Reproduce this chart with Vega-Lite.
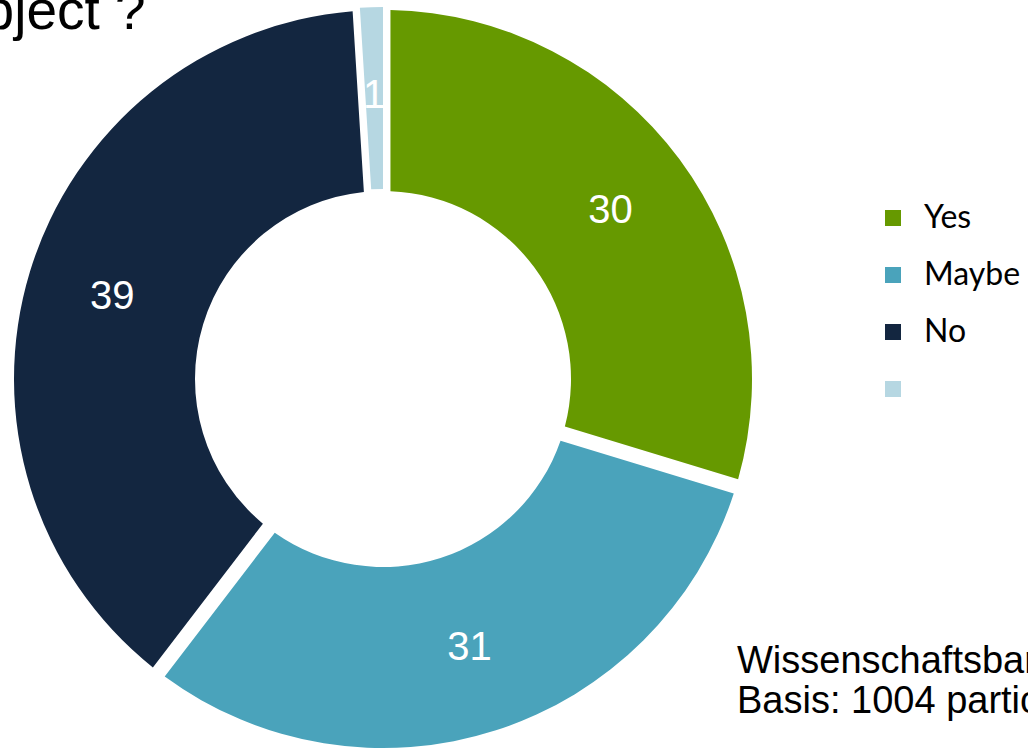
{
  "$schema": "https://vega.github.io/schema/vega-lite/v6.json",
  "width": 766,
  "height": 758,
  "autosize": {"type": "none"},
  "padding": {"left": 0, "top": 0, "right": 262, "bottom": 0},
  "background": "white",
  "config": {"view": {"stroke": null}},
  "datasets": {
    "answers": [
      {"answer": "Yes", "value": 30, "rank": 1},
      {"answer": "Maybe", "value": 31, "rank": 2},
      {"answer": "No", "value": 39, "rank": 3},
      {"answer": "Don’t know", "value": 1, "rank": 4}
    ],
    "title": [{"text": "object ?"}],
    "source": [{"text": "Wissenschaftsbarometer\nBasis: 1004 participants"}]
  },
  "resolve": {"scale": {"theta": "shared", "color": "shared"}},
  "layer": [
    {
      "data": {"name": "answers"},
      "transform": [
        {"stack": "value", "groupby": [], "sort": [{"field": "rank", "order": "ascending"}], "as": ["v0", "v1"]},
        {"filter": "datum.rank < 4"}
      ],
      "mark": {"type": "arc", "innerRadius": 188, "outerRadius": 369, "padAngle": 0.036},
      "encoding": {
        "theta": {"field": "v0", "type": "quantitative", "scale": {"domain": [0, 101]}},
        "theta2": {"field": "v1"},
        "color": {
          "field": "answer",
          "type": "nominal",
          "scale": {
            "domain": ["Yes", "Maybe", "No", "Don’t know"],
            "range": ["#669900", "#4aa3bb", "#132640", "#b6d7e2"]
          },
          "legend": {
            "orient": "none",
            "legendX": 877,
            "legendY": 202,
            "title": null,
            "symbolType": "square",
            "symbolSize": 256,
            "symbolStrokeWidth": 0,
            "labelFont": "Lato",
            "labelFontSize": 32,
            "labelColor": "black",
            "labelOffset": 15,
            "rowPadding": 25,
            "padding": 0,
            "labelExpr": "indexof(datum.label, 'know') >= 0 ? '' : datum.label"
          }
        }
      }
    },
    {
      "data": {"name": "answers"},
      "transform": [
        {"stack": "value", "groupby": [], "sort": [{"field": "rank", "order": "ascending"}], "as": ["v0", "v1"]},
        {"filter": "datum.rank == 4"}
      ],
      "mark": {"type": "arc", "innerRadius": 190, "outerRadius": 372, "padAngle": 0},
      "encoding": {
        "theta": {"field": "v0", "type": "quantitative", "scale": {"domain": [0, 101]}},
        "theta2": {"field": "v1"},
        "color": {"field": "answer", "type": "nominal"}
      }
    },
    {
      "data": {"name": "answers"},
      "mark": {"type": "text", "radius": 283, "fontSize": 40, "font": "Liberation Sans", "fill": "white", "align": "center", "baseline": "middle"},
      "encoding": {
        "theta": {"field": "value", "type": "quantitative", "stack": true, "scale": {"domain": [0, 101]}},
        "order": {"field": "rank", "type": "quantitative"},
        "text": {"field": "value", "type": "quantitative"}
      }
    },
    {
      "data": {"name": "title"},
      "mark": {"type": "text", "fontSize": 55, "font": "Liberation Sans", "fill": "black", "align": "left", "baseline": "alphabetic"},
      "encoding": {
        "x": {"value": -47},
        "y": {"value": 29},
        "text": {"field": "text", "type": "nominal"}
      }
    },
    {
      "data": {"name": "source"},
      "mark": {"type": "text", "fontSize": 38, "font": "Liberation Sans", "fill": "black", "align": "left", "baseline": "alphabetic", "lineBreak": "\n", "lineHeight": 40},
      "encoding": {
        "x": {"value": 737},
        "y": {"value": 673},
        "text": {"field": "text", "type": "nominal"}
      }
    }
  ]
}
